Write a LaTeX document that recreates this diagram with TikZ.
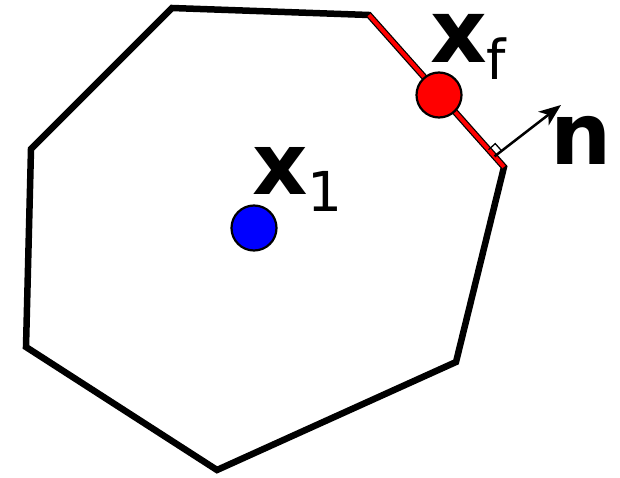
\documentclass[tikz,border=0pt]{standalone}
\usepackage{fontspec}
\setmainfont{DejaVu Sans}
\usetikzlibrary{arrows.meta,calc}
\begin{document}
\begin{tikzpicture}[x=1pt,y=-1pt,>={Stealth[length=22pt,width=17pt,inset=6pt]}]
        \useasboundingbox (0,0) rectangle (620,478);
        % corners of the cell
        \coordinate (c1) at (172,8);
        \coordinate (c2) at (369,15);
        \coordinate (c3) at (504,167);
        \coordinate (c4) at (456,362);
        \coordinate (c5) at (217,470);
        \coordinate (c6) at (26,347);
        \coordinate (c7) at (31,149);
        \draw[line width=6.5pt] (c1) -- (c2) -- (c3) -- (c4) -- (c5) -- (c6) -- (c7) -- cycle;
        \draw[red, line width=4pt] (c2) -- (c3);
        % face normal
        \coordinate (foot) at ($(c2)!0.93!(c3)$);
        \coordinate (tip) at (561,105);
        \draw[line width=2.5pt,->] (foot) -- (tip);
        \draw[line width=1.3pt] (foot) ++(-6,-6.7) -- ++(6.7,-6) -- ++(6,6.7);
        % points
        \node (xf) [circle, draw, fill=red, line width=2.2pt, minimum size=45pt, inner sep=0pt] at (439,95) {};
        \node (x1) [circle, draw, fill=blue, line width=2.2pt, minimum size=45pt, inner sep=0pt] at (254,228) {};
        \node (xflabel) [anchor=base west, inner sep=0pt, text height=50pt] at (430,63) {\fontsize{88}{88}\selectfont\bfseries x\raisebox{-17pt}{\fontsize{55}{55}\selectfont\mdseries f}};
        \node (x1label) [anchor=base west, inner sep=0pt, text height=50pt] at (252,195) {\fontsize{86}{86}\selectfont\bfseries x\raisebox{-17pt}{\fontsize{55}{55}\selectfont\mdseries 1}};
        \node (nlabel) [anchor=base west, inner sep=0pt, text height=50pt] at (550,165) {\fontsize{86}{86}\selectfont\bfseries n};
    \end{tikzpicture}
\end{document}
